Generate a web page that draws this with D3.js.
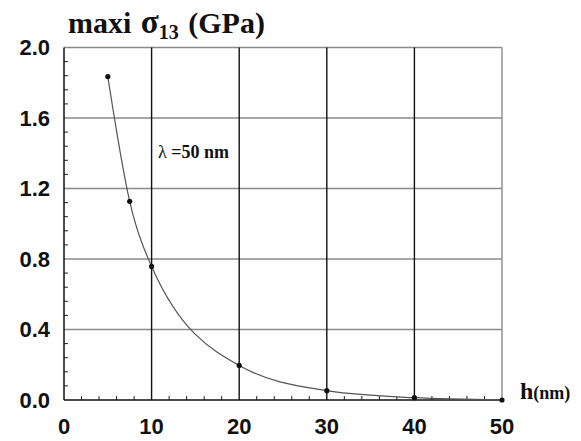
<!DOCTYPE html>
<html>
<head>
<meta charset="utf-8">
<script src="https://cdn.jsdelivr.net/npm/d3@7"></script>
<style>
  html, body { margin: 0; padding: 0; background: #fff; }
  svg { display: block; }
</style>
</head>
<body>
<svg id="chart" width="581" height="441"></svg>
<script>
// Film thickness h (nm) and the maximum shear stress sigma_13 (GPa)
const hValues = [5, 7.5, 10, 20, 30, 40, 50];
const sigmaValues = [1.835, 1.127, 0.758, 0.196, 0.053, 0.013, 0.0];
const xTicks = [0, 10, 20, 30, 40, 50];
const yTicks = [0.0, 0.4, 0.8, 1.2, 1.6, 2.0];
const yTickLabels = ["0.0", "0.4", "0.8", "1.2", "1.6", "2.0"];

const svg = d3.select("#chart");
const plotL = 64, plotR = 502, plotT = 47.5, plotB = 400;

const x = d3.scaleLinear().domain([0, 50]).range([plotL, plotR]);
const y = d3.scaleLinear().domain([0, 2.0]).range([plotB, plotT]);

// Horizontal grid lines (grey)
svg.append("g")
  .selectAll("line")
  .data(yTicks.slice(1))
  .join("line")
  .attr("x1", plotL).attr("x2", plotR)
  .attr("y1", d => y(d)).attr("y2", d => y(d))
  .attr("stroke", "#8a8a8a").attr("stroke-width", 1.5);

// Vertical grid lines (black), last one is the grey frame edge
svg.append("g")
  .selectAll("line")
  .data(xTicks.slice(1))
  .join("line")
  .attr("x1", d => x(d)).attr("x2", d => x(d))
  .attr("y1", plotT).attr("y2", plotB)
  .attr("stroke", d => d === 50 ? "#8a8a8a" : "#111")
  .attr("stroke-width", 1.4);

// Minor ticks along the x axis (every 2 nm), pointing up
const xMinor = d3.range(0, 50.001, 2).filter(v => v % 10 !== 0);
svg.append("g")
  .selectAll("line")
  .data(xMinor)
  .join("line")
  .attr("x1", d => x(d)).attr("x2", d => x(d))
  .attr("y1", plotB).attr("y2", plotB - 4)
  .attr("stroke", "#222").attr("stroke-width", 1);

// Minor ticks along the y axis (every 0.08 GPa), pointing right
const yMinor = d3.range(0, 2.0001, 0.08).filter(v => Math.abs(v / 0.4 - Math.round(v / 0.4)) > 1e-6);
svg.append("g")
  .selectAll("line")
  .data(yMinor)
  .join("line")
  .attr("x1", plotL).attr("x2", plotL + 4)
  .attr("y1", d => y(d)).attr("y2", d => y(d))
  .attr("stroke", "#222").attr("stroke-width", 1);

// Left and bottom axis lines
svg.append("line")
  .attr("x1", plotL).attr("x2", plotL).attr("y1", plotT).attr("y2", plotB)
  .attr("stroke", "#111").attr("stroke-width", 1.5);
svg.append("line")
  .attr("x1", plotL).attr("x2", plotR).attr("y1", plotB).attr("y2", plotB)
  .attr("stroke", "#111").attr("stroke-width", 1.5);

// Y tick labels
svg.append("g")
  .selectAll("text")
  .data(yTicks)
  .join("text")
  .attr("x", 50)
  .attr("y", d => y(d) + 7.5)
  .attr("text-anchor", "end")
  .attr("font-family", "Liberation Sans, Arial, sans-serif")
  .attr("font-weight", "bold")
  .attr("font-size", 22)
  .attr("fill", "#111")
  .text((d, i) => yTickLabels[i]);

// X tick labels
svg.append("g")
  .selectAll("text")
  .data(xTicks)
  .join("text")
  .attr("x", d => x(d))
  .attr("y", 434)
  .attr("text-anchor", "middle")
  .attr("font-family", "Liberation Sans, Arial, sans-serif")
  .attr("font-weight", "bold")
  .attr("font-size", 22)
  .attr("fill", "#111")
  .text(d => d);

// Smooth decay curve through the data points
const pts = hValues.map((h, i) => [h, sigmaValues[i]]);
const line = d3.line()
  .x(d => x(d[0]))
  .y(d => y(d[1]))
  .curve(d3.curveMonotoneX);
svg.append("path")
  .datum(pts)
  .attr("d", line)
  .attr("fill", "none")
  .attr("stroke", "#555")
  .attr("stroke-width", 1.2);

// Data markers
svg.append("g")
  .selectAll("circle")
  .data(pts)
  .join("circle")
  .attr("cx", d => x(d[0]))
  .attr("cy", d => y(d[1]))
  .attr("r", 2.6)
  .attr("fill", "#111");

// Title: maxi sigma_13 (GPa)
const title = svg.append("text")
  .attr("x", 68).attr("y", 33)
  .attr("font-family", "Liberation Serif, Times New Roman, serif")
  .attr("font-weight", "bold")
  .attr("font-size", 30)
  .attr("fill", "#111");
title.append("tspan").text("maxi ");
title.append("tspan").attr("font-size", 33).attr("dx", 2).text("σ");
title.append("tspan").attr("font-size", 20).attr("dy", 6).text("13");
title.append("tspan").attr("dy", -6).attr("dx", 2).text(" (GPa)");

// Axis name: h(nm)
const hLabel = svg.append("text")
  .attr("x", 520).attr("y", 399)
  .attr("font-family", "Liberation Serif, Times New Roman, serif")
  .attr("font-weight", "bold")
  .attr("fill", "#111");
hLabel.append("tspan").attr("font-size", 24).text("h");
hLabel.append("tspan").attr("font-size", 18).text("(nm)");

// Annotation
const ann = svg.append("text")
  .attr("x", 158).attr("y", 158)
  .attr("font-family", "Liberation Serif, Times New Roman, serif")
  .attr("font-size", 18)
  .attr("fill", "#111");
ann.append("tspan").text("λ ");
ann.append("tspan").attr("font-weight", "bold").text("=50 nm");
</script>
</body>
</html>
